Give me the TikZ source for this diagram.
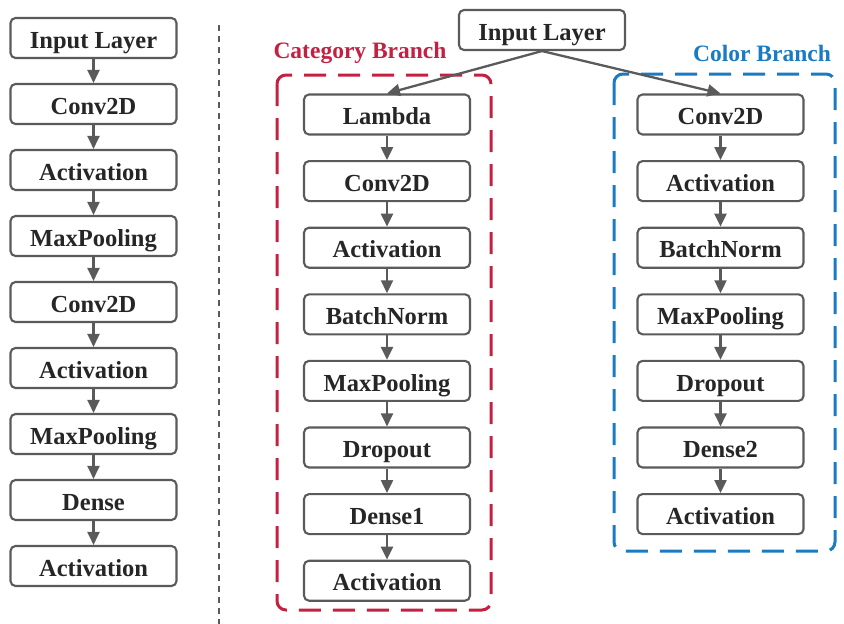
\documentclass[tikz,border=0pt]{standalone}
\usepackage{fontspec}
\setmainfont{Liberation Serif}
\usetikzlibrary{arrows.meta}
\definecolor{bordergray}{HTML}{5A5A5A}
\definecolor{textdark}{HTML}{262626}
\definecolor{catred}{HTML}{C42142}
\definecolor{colblue}{HTML}{1A7BC2}
\tikzset{
  layer/.style={draw=bordergray, line width=2.1pt, rounded corners=5pt, fill=white,
    minimum width=166pt, minimum height=40pt, inner sep=0pt, text=textdark,
    text height=20.5pt, text depth=0pt,
    font=\fontsize{24.5}{28}\selectfont\bfseries},
  flow/.style={draw=bordergray, line width=2.3pt, -{Triangle[length=13pt,width=12pt]}},
  branchframe/.style={line width=3pt, rounded corners=9pt, dash pattern=on 22pt off 12pt},
  branchlabel/.style={font=\fontsize{23.5}{26}\selectfont\bfseries, inner sep=0pt}
}
\begin{document}
\begin{tikzpicture}[x=1pt,y=-1pt]
\useasboundingbox (0,0) rectangle (844,624);
% separator
\coordinate (septop) at (219,25);
\coordinate (sepbot) at (219,624);
\draw[bordergray, line width=1.5pt, dash pattern=on 6pt off 5pt] (septop) -- (sepbot);
% left column
\foreach \t [count=\i from 0] in {Input Layer,Conv2D,Activation,MaxPooling,Conv2D,Activation,MaxPooling,Dense,Activation}{
  \node[layer] (L\i) at (93.5,{38+66*\i}) {\t};
}
\foreach \i [evaluate=\i as \j using int(\i+1)] in {0,...,7}{
  \draw[flow] (L\i.south) -- (L\j.north);
}
% branch frames
\draw[branchframe, catred] (277,75) rectangle (491,610);
\draw[branchframe, colblue] (614,74) rectangle (835,551);
\node[branchlabel, text=catred] (catlab) at (360,53) {Category Branch};
\node[branchlabel, text=colblue] (collab) at (762,53) {Color Branch};
% input
\node[layer] (IN) at (542,30) {Input Layer};
% category branch
\foreach \t [count=\i from 0] in {Lambda,Conv2D,Activation,BatchNorm,MaxPooling,Dropout,Dense1,Activation}{
  \node[layer] (C\i) at (387,{114.5+66.6*\i}) {\t};
}
\foreach \i [evaluate=\i as \j using int(\i+1)] in {0,...,6}{
  \draw[flow] (C\i.south) -- (C\j.north);
}
% color branch
\foreach \t [count=\i from 0] in {Conv2D,Activation,BatchNorm,MaxPooling,Dropout,Dense2,Activation}{
  \node[layer] (K\i) at (720.5,{114.5+66.6*\i}) {\t};
}
\foreach \i [evaluate=\i as \j using int(\i+1)] in {0,...,5}{
  \draw[flow] (K\i.south) -- (K\j.north);
}
\draw[flow] (IN.south) -- (C0.north);
\draw[flow] (IN.south) -- (K0.north);
\end{tikzpicture}
\end{document}
